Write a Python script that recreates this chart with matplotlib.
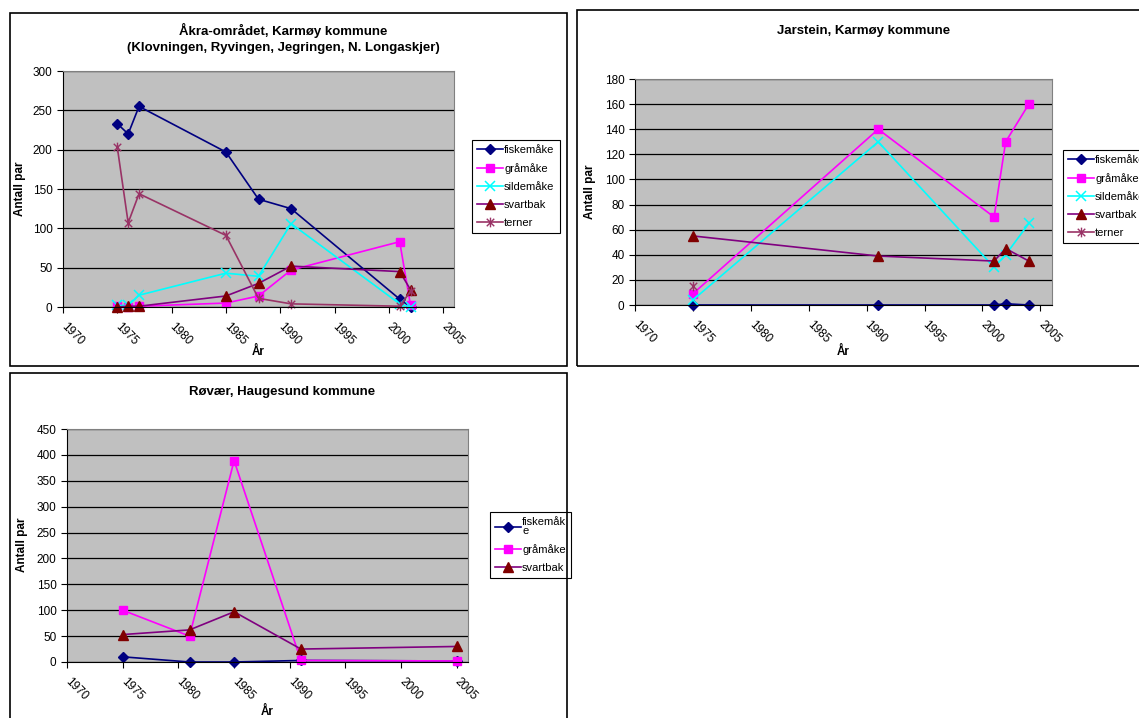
import numpy as np
import matplotlib.pyplot as plt
from matplotlib.path import Path
from matplotlib.patches import Rectangle

plt.rcParams['font.family'] = ['Liberation Sans', 'DejaVu Sans']

# Åkra-området
akra_years = [1975, 1976, 1977, 1985, 1988, 1991, 2001, 2002]
akra_fiskemake = [233, 220, 255, 197, 137, 125, 10, 0]
akra_gramake = [1, 0, 1, 5, 14, 47, 83, 2]
akra_sildemake = [2, 2, 15, 43, 39, 106, 4, 0]
akra_svartbak = [0, 1, 1, 14, 30, 52, 45, 22]
akra_terner = [203, 107, 144, 91, 11, 4, 1, 20]

# Jarstein
jarstein_years = [1975, 1991, 2001, 2002, 2004]
jarstein_fiskemake = [0, 0, 0, 1, 0]
jarstein_gramake = [9, 140, 70, 130, 160]
jarstein_sildemake = [4, 130, 30, 40, 65]
jarstein_svartbak = [55, 39, 35, 45, 35]
jarstein_terner_years = [1975]
jarstein_terner = [15]

# Røvær
rovaer_years = [1975, 1981, 1985, 1991, 2005]
rovaer_fiskemake = [10, 0, 0, 3, 2]
rovaer_gramake = [100, 50, 389, 3, 2]
rovaer_svartbak = [53, 62, 97, 25, 30]

x_ticks = [1970, 1975, 1980, 1985, 1990, 1995, 2000, 2005]

# excel-like star marker: an x with a vertical bar
star = Path([(-1, -1), (1, 1), (-1, 1), (1, -1), (0, -1.3), (0, 1.3)],
            [Path.MOVETO, Path.LINETO, Path.MOVETO, Path.LINETO, Path.MOVETO, Path.LINETO])

styles = {
    'fiskemåke': dict(color='#000080', marker='D', ms=5, mfc='#000080', mec='#000080'),
    'gråmåke': dict(color='#FF00FF', marker='s', ms=6, mfc='#FF00FF', mec='#FF00FF'),
    'sildemåke': dict(color='#00FFFF', marker='x', ms=6.5, mew=1.1),
    'svartbak': dict(color='#800080', marker='^', ms=6.5, mfc='#800000', mec='#800000'),
    'terner': dict(color='#993366', marker=star, ms=7, mew=1.0, mec='#993366'),
}

W, H = 1139, 718
fig = plt.figure(figsize=(W / 100, H / 100), dpi=100)


def box(x0, y0, x1, y1):
    return [x0 / W, 1 - y1 / H, (x1 - x0) / W, (y1 - y0) / H]


def frame(x0, y0, x1, y1):
    fig.add_artist(Rectangle((x0 / W, 1 - y1 / H), (x1 - x0) / W, (y1 - y0) / H,
                             transform=fig.transFigure, fill=False, ec='black', lw=1.2))


def setup(ax, ymax, ystep):
    ax.set_facecolor('#C0C0C0')
    ax.set_xlim(1970, 2006)
    ax.set_ylim(0, ymax)
    ax.set_yticks(np.arange(0, ymax + 1, ystep))
    ax.set_xticks(x_ticks)
    ax.set_xticklabels([str(t) for t in x_ticks], rotation=-45, ha='left', va='center',
                       rotation_mode='anchor')
    ax.yaxis.grid(True, color='black', lw=0.9)
    ax.set_axisbelow(True)
    for s in ['top', 'right']:
        ax.spines[s].set_color('#808080')
    for s in ['left', 'bottom']:
        ax.spines[s].set_color('black')
    ax.tick_params(labelsize=8.5, length=4, width=0.8, direction='out')
    ax.tick_params(axis='x', pad=9)


def line(ax, x, y, name):
    ax.plot(x, y, lw=1.2, label=name, clip_on=False, **styles[name])


def legend(ax, x, y, **kw):
    leg = ax.legend(loc='upper left', bbox_to_anchor=(x / W, 1 - y / H),
                    bbox_transform=fig.transFigure, fancybox=False, edgecolor='black',
                    framealpha=1, fontsize=8, borderpad=0.45, labelspacing=0.72,
                    handlelength=2.3, handletextpad=0.15, borderaxespad=0, **kw)
    leg.get_frame().set_linewidth(0.8)
    return leg


# panel 1
frame(10, 13, 567, 366)
ax1 = fig.add_axes(box(63, 71, 454, 307))
setup(ax1, 300, 50)
line(ax1, akra_years, akra_fiskemake, 'fiskemåke')
line(ax1, akra_years, akra_gramake, 'gråmåke')
line(ax1, akra_years, akra_sildemake, 'sildemåke')
line(ax1, akra_years, akra_svartbak, 'svartbak')
line(ax1, akra_years, akra_terner, 'terner')
legend(ax1, 472, 140)
fig.text(283 / W, 1 - 30 / H, 'Åkra-området, Karmøy kommune', ha='center', va='center',
         fontsize=9.5, fontweight='bold')
fig.text(283 / W, 1 - 48 / H, '(Klovningen, Ryvingen, Jegringen, N. Longaskjer)', ha='center',
         va='center', fontsize=9.5, fontweight='bold')
fig.text(20 / W, 1 - 189 / H, 'Antall par', rotation=90, ha='center', va='center',
         fontsize=8.5, fontweight='bold')
fig.text(258 / W, 1 - 352 / H, 'År', ha='center', va='center', fontsize=8.5, fontweight='bold')

# panel 2
frame(577, 10, 1150, 366)
ax2 = fig.add_axes(box(635, 79, 1052, 305))
setup(ax2, 180, 20)
line(ax2, jarstein_years, jarstein_fiskemake, 'fiskemåke')
line(ax2, jarstein_years, jarstein_gramake, 'gråmåke')
line(ax2, jarstein_years, jarstein_sildemake, 'sildemåke')
line(ax2, jarstein_years, jarstein_svartbak, 'svartbak')
line(ax2, jarstein_terner_years, jarstein_terner, 'terner')
legend(ax2, 1063, 150)
fig.text(864 / W, 1 - 31 / H, 'Jarstein, Karmøy kommune', ha='center', va='center',
         fontsize=9.5, fontweight='bold')
fig.text(590 / W, 1 - 192 / H, 'Antall par', rotation=90, ha='center', va='center',
         fontsize=8.5, fontweight='bold')
fig.text(843 / W, 1 - 352 / H, 'År', ha='center', va='center', fontsize=8.5, fontweight='bold')

# panel 3
frame(10, 373, 567, 725)
ax3 = fig.add_axes(box(67, 429, 468, 662))
setup(ax3, 450, 50)
line(ax3, rovaer_years, rovaer_fiskemake, 'fiskemåke')
line(ax3, rovaer_years, rovaer_gramake, 'gråmåke')
line(ax3, rovaer_years, rovaer_svartbak, 'svartbak')
h, l = ax3.get_legend_handles_labels()
leg3 = legend(ax3, 490, 512, handles=h, labels=['fiskemåk\ne', 'gråmåke', 'svartbak'])
leg3.get_texts()[0].set_linespacing(0.9)
fig.text(282 / W, 1 - 392 / H, 'Røvær, Haugesund kommune', ha='center', va='center',
         fontsize=9.5, fontweight='bold')
fig.text(22 / W, 1 - 545 / H, 'Antall par', rotation=90, ha='center', va='center',
         fontsize=8.5, fontweight='bold')
fig.text(267 / W, 1 - 712 / H, 'År', ha='center', va='center', fontsize=8.5, fontweight='bold')

fig.savefig('out.png', dpi=100)
